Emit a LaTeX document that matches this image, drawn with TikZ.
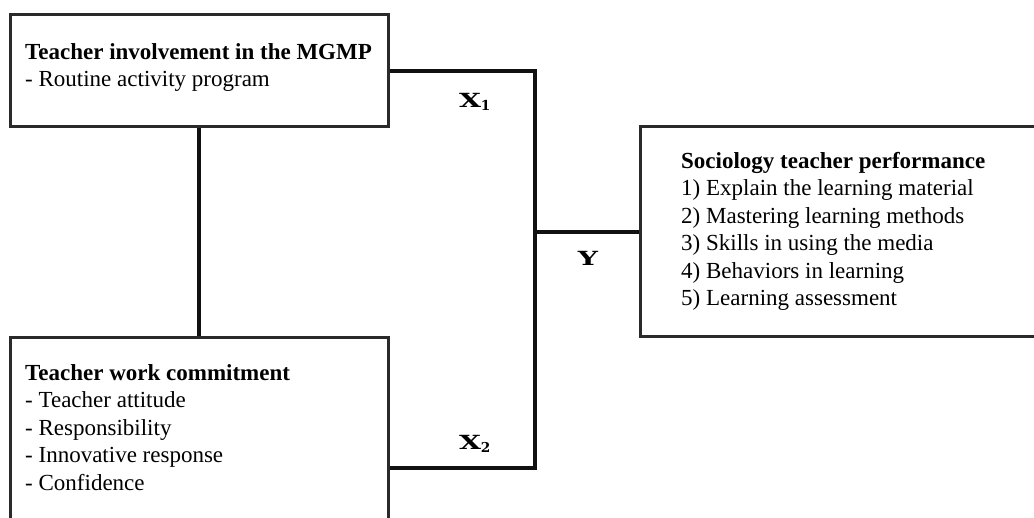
\documentclass[tikz,border=0pt]{standalone}
\usepackage{fontspec}
\setmainfont{Liberation Serif}
\newfontfamily\labfont{DejaVu Serif}
\usetikzlibrary{calc}
\definecolor{boxline}{HTML}{2A2A2A}
\definecolor{wire}{HTML}{111111}
\newcommand{\varlab}[2]{{\labfont\bfseries\scalebox{1.45}[1]{#1}\textsubscript{#2}}}
\tikzset{varbox/.style={draw=boxline,line width=3pt,rectangle,inner sep=0pt},
  boxtext/.style={anchor=north west,align=left,inner sep=0pt,font=\fontsize{23}{27.5}\selectfont},
  link/.style={wire,line width=3.5pt},
  lab/.style={inner sep=0pt,font=\fontsize{19.5}{20}\selectfont}}

\begin{document}
\begin{tikzpicture}[x=1pt,y=1pt]
\clip (0,0) rectangle (1034,517);
\node[varbox,minimum width=378pt,minimum height=112pt] (mgmp) at (199,446) {};
\node[varbox,minimum width=378pt,minimum height=219pt] (commit) at (199,69.5) {};
\node[varbox,minimum width=430pt,minimum height=210pt] (perf) at (855,285) {};
\node[boxtext] (mgmptxt) at (25,474) {\textbf{Teacher involvement in the MGMP}\\- Routine activity program};
\node[boxtext] (committxt) at (25,153) {\textbf{Teacher work commitment}\\- Teacher attitude\\- Responsibility\\- Innovative response\\- Confidence};
\node[boxtext] (perftxt) at (681,365) {\textbf{Sociology teacher performance}\\1) Explain the learning material\\2) Mastering learning methods\\3) Skills in using the media\\4) Behaviors in learning\\5) Learning assessment};
% connectors
\coordinate (jn) at (535,49);
\draw[link] (mgmp.south) -- (commit.north);
\draw[link] (mgmp.east) -| (jn) -- (jn -| commit.east);
\draw[link] (perf.west) -- (perf.west -| jn);
\node[lab] (xone) at (475,415) {\varlab{X}{1}};
\node[lab] (xtwo) at (475,73) {\varlab{X}{2}};
\node[lab] (ylab) at (588,259) {{\labfont\bfseries\scalebox{1.45}[1]{Y}}};
\end{tikzpicture}
\end{document}
